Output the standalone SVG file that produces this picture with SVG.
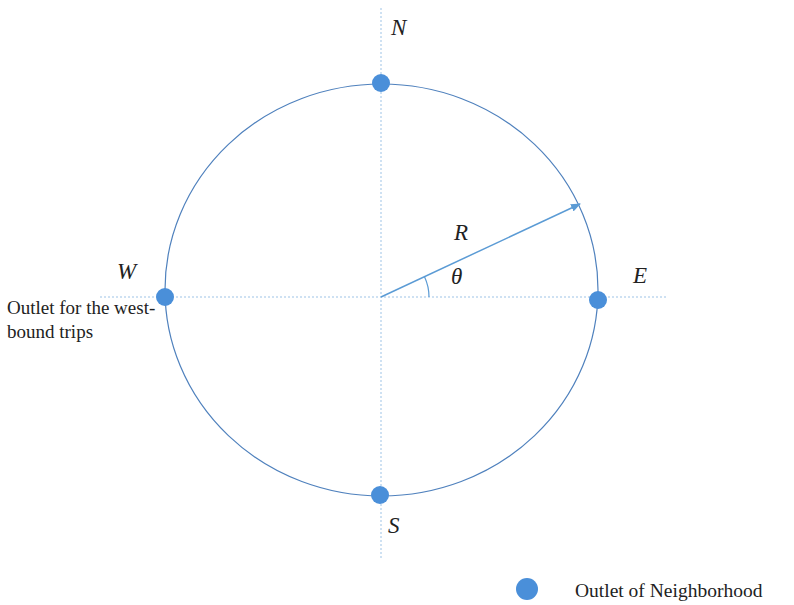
<svg xmlns="http://www.w3.org/2000/svg" width="794" height="605" viewBox="0 0 794 605">
<style>
.axis{stroke:#9dc3e6;stroke-width:1;stroke-dasharray:2,2;fill:none}
.dot{fill:#4a8fd9}
.lbl{font-family:"Liberation Serif",serif;font-style:italic;font-size:23px;fill:#222}
.txt{font-family:"Liberation Serif",serif;font-size:19px;fill:#222}
</style>
<defs>
<marker id="ah" markerWidth="10" markerHeight="8" refX="9" refY="4" orient="auto" markerUnits="userSpaceOnUse">
<path d="M0,0 L10,4 L0,8 Z" fill="#5b9bd5"/>
</marker>
</defs>
<rect width="794" height="605" fill="#fff"/>
<g id="connectors">
<line class="axis" x1="381" y1="8" x2="381" y2="560"/>
<line class="axis" x1="100" y1="297" x2="668" y2="297"/>
<ellipse cx="381.5" cy="290" rx="216.5" ry="206" fill="none" stroke="#4f81bd" stroke-width="1.2"/>
<line x1="381" y1="297" x2="580" y2="204" stroke="#5b9bd5" stroke-width="1.5" marker-end="url(#ah)"/>
<path d="M429,297 A48,48 0 0 0 424.5,276.7" fill="none" stroke="#5b9bd5" stroke-width="1.2"/>
</g>
<g id="node-N"><circle class="dot" cx="381" cy="83" r="9"/><text class="lbl" x="391" y="35">N</text></g>
<g id="node-S"><circle class="dot" cx="380" cy="495" r="9"/><text class="lbl" x="388" y="533">S</text></g>
<g id="node-W"><circle class="dot" cx="165" cy="297" r="9"/><text class="lbl" x="117" y="279">W</text>
<text class="txt" x="7" y="314">Outlet for the west-</text><text class="txt" x="7" y="338">bound trips</text></g>
<g id="node-E"><circle class="dot" cx="598" cy="300" r="9"/><text class="lbl" x="633" y="283">E</text></g>
<g id="labels"><text class="lbl" x="454" y="240">R</text><text class="lbl" x="451" y="284">θ</text></g>
<g id="legend"><circle class="dot" cx="527" cy="589" r="11"/><text class="txt" x="575" y="597" style="font-size:19.5px">Outlet of Neighborhood</text></g>
</svg>
